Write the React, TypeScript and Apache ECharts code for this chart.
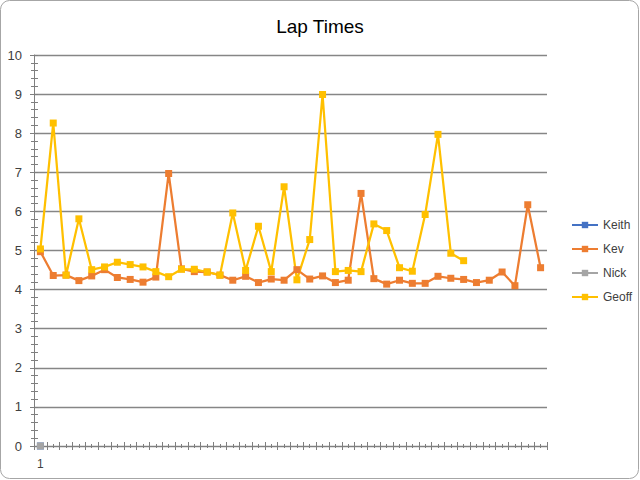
import React, { useEffect, useRef } from "react";
import * as echarts from "echarts";

const laps = ["1","","","","","","","","","","","","","","","","","","","","","","","","","","","","","","","","","","","","","","",""];
const keith = [0, null, null, null, null, null, null, null, null, null, null, null, null, null, null, null, null, null, null, null, null, null, null, null, null, null, null, null, null, null, null, null, null, null, null, null, null, null, null, null];
const kev = [4.97, 4.36, 4.37, 4.23, 4.35, 4.51, 4.31, 4.26, 4.19, 4.32, 6.97, 4.53, 4.46, 4.45, 4.37, 4.24, 4.34, 4.18, 4.27, 4.24, 4.51, 4.27, 4.35, 4.18, 4.24, 6.46, 4.28, 4.14, 4.24, 4.16, 4.16, 4.34, 4.29, 4.26, 4.18, 4.24, 4.45, 4.10, 6.17, 4.56];
const nick = [0, null, null, null, null, null, null, null, null, null, null, null, null, null, null, null, null, null, null, null, null, null, null, null, null, null, null, null, null, null, null, null, null, null, null, null, null, null, null, null];
const geoff = [5.04, 8.26, 4.37, 5.81, 4.51, 4.58, 4.70, 4.64, 4.58, 4.46, 4.33, 4.52, 4.52, 4.45, 4.37, 5.96, 4.49, 5.62, 4.46, 6.63, 4.25, 5.28, 8.99, 4.46, 4.49, 4.46, 5.68, 5.51, 4.56, 4.47, 5.92, 7.97, 4.93, 4.74, null, null, null, null, null, null];

const seriesNames = ["Keith", "Kev", "Nick", "Geoff"];
const seriesColors = ["#4472C4", "#ED7D31", "#A5A5A5", "#FFC000"];
const seriesData = [keith, kev, nick, geoff];

const FONT = "Liberation Sans";

export default function App() {
  const ref = useRef<HTMLDivElement>(null);
  useEffect(() => {
    if (!ref.current) return;
    const chart = echarts.init(ref.current, null, { renderer: "svg" });
    const grid = { left: 34, right: 93, top: 55, bottom: 34 };
    const tickStyle = { color: "#7f7f7f", width: 1 };
    chart.setOption({
      animation: false,
      backgroundColor: "#ffffff",
      title: {
        text: "Lap Times",
        left: "center",
        top: 12,
        textStyle: { fontFamily: FONT, fontSize: 19, fontWeight: "normal", color: "#000000" },
      },
      legend: {
        orient: "vertical",
        left: 566,
        top: 214,
        itemWidth: 26,
        itemHeight: 8,
        itemGap: 12,
        textStyle: { fontFamily: FONT, fontSize: 12, color: "#404040" },
        data: seriesNames,
      },
      graphic: [
        {
          type: "rect",
          shape: { x: 0.5, y: 0.5, width: 638, height: 478, r: 9 },
          style: { fill: "none", stroke: "#a6a6a6", lineWidth: 1 },
          silent: true,
        },
      ],
      grid,
      xAxis: [
        {
          type: "category",
          data: laps,
          boundaryGap: true,
          axisLine: { show: true, lineStyle: { color: "#7f7f7f", width: 1 } },
          axisTick: { show: false },
          axisLabel: { interval: 0, margin: 12, fontFamily: FONT, fontSize: 12, color: "#404040" },
          splitLine: { show: false },
        },
        {
          type: "category",
          data: laps,
          position: "bottom",
          offset: -4,
          boundaryGap: true,
          axisLine: { show: false },
          axisTick: { show: true, interval: 0, length: 8, lineStyle: tickStyle },
          axisLabel: { show: false },
          splitLine: { show: false },
        },
        {
          type: "category",
          data: laps,
          position: "bottom",
          offset: -2,
          boundaryGap: true,
          axisLine: { show: false },
          axisTick: { show: true, interval: 0, alignWithLabel: true, length: 4, lineStyle: tickStyle },
          axisLabel: { show: false },
          splitLine: { show: false },
        },
      ],
      yAxis: [
        {
          type: "value",
          min: 0,
          max: 10,
          interval: 1,
          axisLine: { show: true, lineStyle: { color: "#7f7f7f", width: 1 } },
          axisTick: { show: false },
          axisLabel: { margin: 12, fontFamily: FONT, fontSize: 13, color: "#404040" },
          splitLine: { show: true, lineStyle: { color: "#868686", width: 1.3 } },
        },
        {
          type: "value",
          min: 0,
          max: 10,
          interval: 1,
          position: "left",
          offset: -4,
          axisLine: { show: false },
          axisTick: { show: true, length: 8, lineStyle: tickStyle },
          minorTick: { show: true, splitNumber: 5, length: 7, lineStyle: tickStyle },
          axisLabel: { show: false },
          splitLine: { show: false },
        },
      ],
      series: seriesNames.map((name, i) => ({
        name,
        type: "line",
        data: seriesData[i],
        xAxisIndex: 0,
        yAxisIndex: 0,
        symbol: "rect",
        symbolSize: 7,
        showAllSymbol: true,
        connectNulls: false,
        lineStyle: { color: seriesColors[i], width: 2.25 },
        itemStyle: { color: seriesColors[i] },
        emphasis: { disabled: true },
      })),
    });
    return () => chart.dispose();
  }, []);
  return (
    <div
      ref={ref}
      style={{ position: "fixed", left: 0, top: 0, width: 640, height: 480, background: "#fff" }}
    />
  );
}
